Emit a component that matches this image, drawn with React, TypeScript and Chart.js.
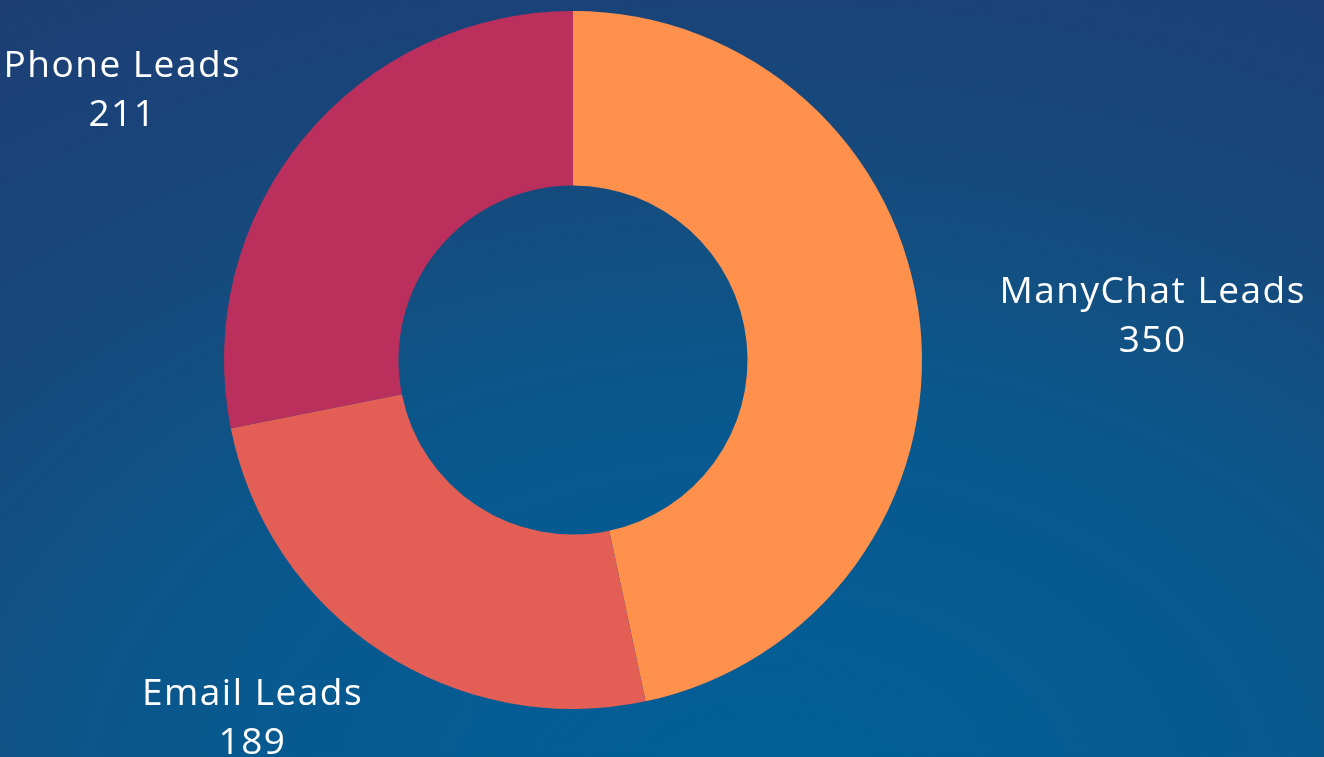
import React, { useEffect, useRef } from "react";
import { Chart, registerables } from "chart.js";

Chart.register(...registerables);

const categories = ["ManyChat Leads", "Email Leads", "Phone Leads"];
const leadCounts = [350, 189, 211];
const sliceColors = ["#FF914D", "#E35F56", "#BB2F5C"];

const W = 1324;
const H = 757;

const backgroundPlugin = {
  id: "bgGradient",
  beforeDraw(chart: any) {
    const ctx = chart.ctx as CanvasRenderingContext2D;
    ctx.save();
    ctx.fillStyle = "#1d3e6e";
    ctx.fillRect(0, 0, chart.width, chart.height);
    ctx.translate(760, 800);
    ctx.scale(1, 1 / 1.5);
    const g = ctx.createRadialGradient(0, 0, 0, 0, 0, 1450);
    g.addColorStop(0, "#025f98");
    g.addColorStop(0.38, "#08598f");
    g.addColorStop(0.48, "#0b5589");
    g.addColorStop(0.55, "#125183");
    g.addColorStop(0.67, "#16497c");
    g.addColorStop(0.9, "#1b4177");
    g.addColorStop(1, "#1d3e6e");
    ctx.fillStyle = g;
    ctx.fillRect(-2000, -3000, 4000, 6000);
    ctx.restore();
  },
};

const labelPlugin = {
  id: "outerLabels",
  afterDatasetsDraw(chart: any) {
    const ctx = chart.ctx as CanvasRenderingContext2D;
    const meta = chart.getDatasetMeta(0);
    const labels = chart.data.labels as string[];
    const values = chart.data.datasets[0].data as number[];
    ctx.save();
    ctx.fillStyle = "#ffffff";
    ctx.font = "400 37px 'Open Sans', sans-serif";
    (ctx as any).letterSpacing = "1.5px";
    ctx.textAlign = "center";
    ctx.textBaseline = "alphabetic";
    meta.data.forEach((arc: any, i: number) => {
      const p = arc.getProps(["x", "y", "startAngle", "endAngle", "outerRadius"], true);
      const mid = (p.startAngle + p.endAngle) / 2;
      const rx = p.outerRadius * 1.67;
      const ry = p.outerRadius * 1.225;
      const lx = p.x + rx * Math.cos(mid);
      const ly = p.y + ry * Math.sin(mid);
      ctx.fillText(labels[i], lx, ly - 12);
      ctx.fillText(String(values[i]), lx, ly + 37);
    });
    ctx.restore();
  },
};

export default function App() {
  const ref = useRef<HTMLCanvasElement | null>(null);
  useEffect(() => {
    if (!ref.current) return;
    const chart = new Chart(ref.current, {
      type: "doughnut",
      data: {
        labels: categories,
        datasets: [
          {
            data: leadCounts,
            backgroundColor: sliceColors,
            borderWidth: 0,
            hoverOffset: 0,
          },
        ],
      },
      options: {
        responsive: false,
        animation: false,
        cutout: "50%",
        layout: { padding: { top: 11, bottom: 48, left: 0, right: 178 } },
        plugins: {
          legend: { display: false },
          tooltip: { enabled: false },
        },
      },
      plugins: [backgroundPlugin, labelPlugin],
    });
    return () => chart.destroy();
  }, []);
  return (
    <div style={{ position: "fixed", left: 0, top: 0, width: W, height: H }}>
      <canvas ref={ref} width={W} height={H} style={{ display: "block", width: W, height: H }} />
    </div>
  );
}
